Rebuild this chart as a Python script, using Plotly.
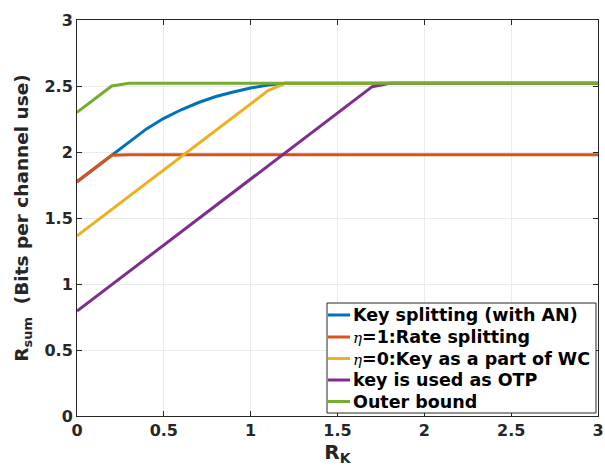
import plotly.graph_objects as go

# Data
x_blue = [0, 0.2, 0.3, 0.4, 0.5, 0.6, 0.7, 0.8, 0.9, 1.0, 1.1, 1.2, 1.5, 2.0, 2.5, 3.0]
y_blue = [1.775, 1.975, 2.08, 2.175, 2.255, 2.32, 2.375, 2.42, 2.455, 2.485, 2.507, 2.52, 2.52, 2.52, 2.52, 2.52]

x_red = [0, 0.2, 0.3, 1.0, 2.0, 3.0]
y_red = [1.775, 1.975, 1.98, 1.98, 1.98, 1.98]

x_yellow = [0, 1.1, 1.2, 2.0, 3.0]
y_yellow = [1.365, 2.465, 2.52, 2.52, 2.52]

x_purple = [0, 1.7, 1.8, 2.5, 3.0]
y_purple = [0.795, 2.495, 2.52, 2.52, 2.52]

x_green = [0, 0.2, 0.3, 1.0, 2.0, 3.0]
y_green = [2.3, 2.5, 2.52, 2.52, 2.52, 2.52]

eta = '<span style="font-family:\'DejaVu Serif\';font-weight:normal;font-size:15px"><i>η</i></span>'
names = [
    "Key splitting (with AN)",
    eta + "=1:Rate splitting",
    eta + "=0:Key as a part of WC",
    "key is used as OTP",
    "Outer bound",
]
colors = ["#0072BD", "#D95319", "#EDB120", "#7E2F8E", "#77AC30"]

ticks = [0, 0.5, 1, 1.5, 2, 2.5, 3]
tick_text = ["0", "0.5", "1", "1.5", "2", "2.5", "3"]

series = [(x_blue, y_blue), (x_red, y_red), (x_yellow, y_yellow), (x_purple, y_purple), (x_green, y_green)]

fig = go.Figure()
for (xs, ys), nm, c in zip(series, names, colors):
    fig.add_trace(go.Scatter(x=xs, y=ys, mode="lines", name=nm, showlegend=False,
                             line=dict(color=c, width=3)))

font_b = dict(family="DejaVu Sans", size=16, color="#262626", weight="bold")

axis_common = dict(
    range=[0, 3], tickvals=ticks, ticktext=tick_text,
    showgrid=True, gridcolor="#EBEBEB", gridwidth=1,
    zeroline=False, showline=True, linecolor="#262626", linewidth=1,
    mirror="ticks", ticks="inside", ticklen=5, tickcolor="#262626",
    tickfont=font_b, automargin=False,
)

# Legend box drawn in paper coordinates (MATLAB-style legend)
L, R, T, B = 77, 7, 20, 57
W, H = 605 - L - R, 473 - T - B
def px(xp):
    return (xp - L) / W
def py(yp):
    return (473 - B - yp) / H

shapes = [dict(type="rect", xref="paper", yref="paper",
               x0=px(327), x1=px(596), y0=py(413), y1=py(303),
               line=dict(color="#262626", width=1), fillcolor="white", layer="above")]
annotations = []
row_y = [315, 337, 358.5, 380, 401.5]
for nm, c, ry in zip(names, colors, row_y):
    shapes.append(dict(type="line", xref="paper", yref="paper",
                       x0=px(328), x1=px(350), y0=py(ry), y1=py(ry),
                       line=dict(color=c, width=3), layer="above"))
    annotations.append(dict(xref="paper", yref="paper", x=px(351), y=py(ry),
                            xanchor="left", yanchor="middle", showarrow=False,
                            text=nm, font=dict(family="DejaVu Sans", size=17.5, color="black", weight="bold")))

fig.update_layout(
    width=605, height=473,
    margin=dict(l=L, r=R, t=T, b=B),
    paper_bgcolor="white", plot_bgcolor="white",
    xaxis=dict(**axis_common,
               title=dict(text="R<sub>K</sub>", font=dict(family="DejaVu Sans", size=20, color="#262626", weight="bold"), standoff=4)),
    yaxis=dict(**axis_common,
               title=dict(text="R<sub>sum</sub>  (Bits per channel use)", font=dict(family="DejaVu Sans", size=18.5, color="#262626", weight="bold"), standoff=10)),
    shapes=shapes,
    annotations=annotations,
    showlegend=False,
)

fig.write_html("out.html", config={"displayModeBar": False})

# remove default page margin so the figure sits at the window's origin
with open("out.html", "r", encoding="utf-8") as f:
    html = f.read()
html = html.replace("<head>", "<head><style>html,body{margin:0;padding:0;overflow:hidden;}</style>", 1)
with open("out.html", "w", encoding="utf-8") as f:
    f.write(html)
